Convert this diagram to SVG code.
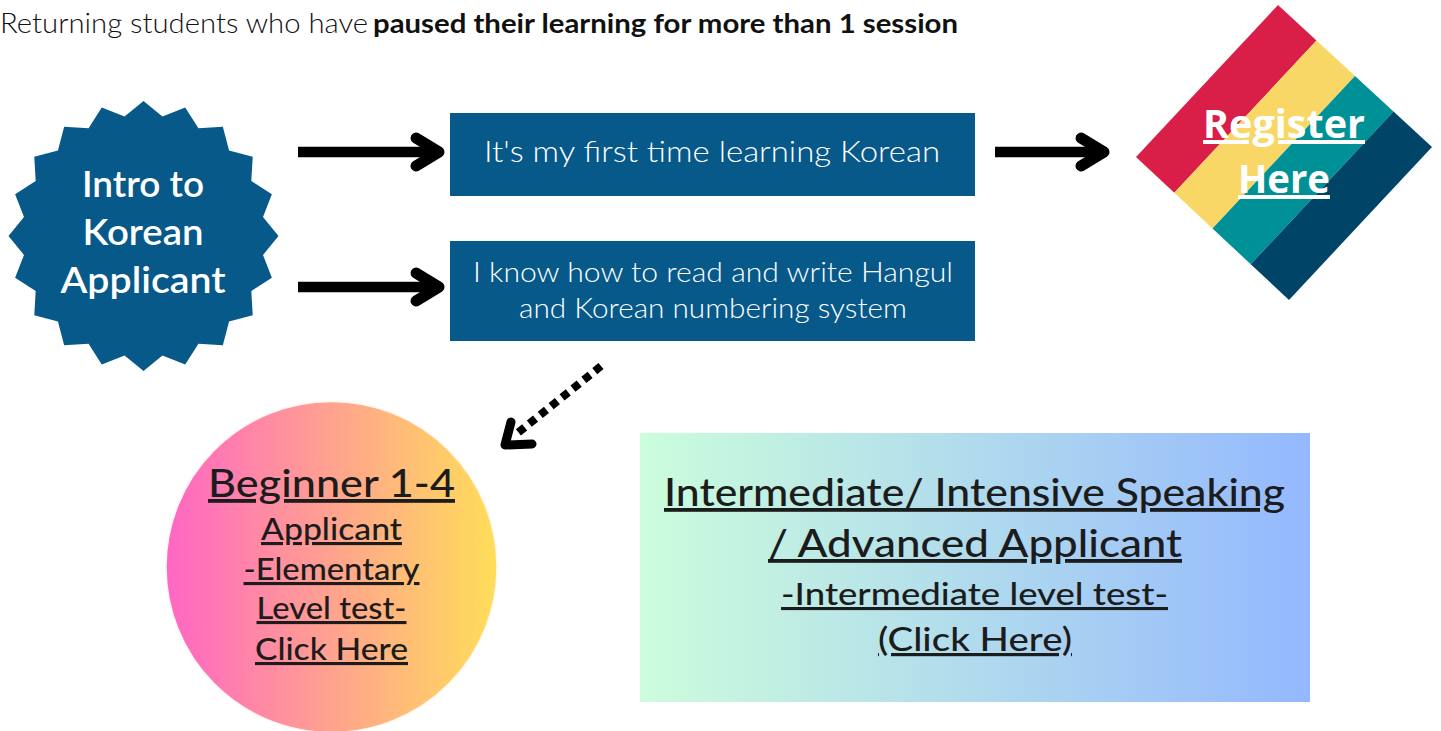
<svg xmlns="http://www.w3.org/2000/svg" width="1441" height="731" viewBox="0 0 1441 731">
  <defs>
    <linearGradient id="gradPink" x1="0" y1="0" x2="1" y2="0">
      <stop offset="0" stop-color="#FF66C4"/>
      <stop offset="1" stop-color="#FFDE59"/>
    </linearGradient>
    <linearGradient id="gradMint" x1="0" y1="0" x2="1" y2="0">
      <stop offset="0" stop-color="#CCFDDC"/>
      <stop offset="1" stop-color="#94B8FE"/>
    </linearGradient>
    <style>
      .blue { fill: #07598A; }
      .wtxt { fill: #FFFFFF; font-family: Lato, "Noto Sans", sans-serif; text-anchor: middle; }
      .dtxt { fill: #1C1C1C; font-family: Lato, "Noto Sans", sans-serif; text-anchor: middle; text-decoration: underline; font-weight: 500; }
      .head { fill: #111111; font-family: Lato, "Noto Sans", sans-serif; font-size: 27px; }
      .arrow { fill: none; stroke: #000000; stroke-width: 10.5; }
      .head-chev { fill: none; stroke: #000000; stroke-width: 11; stroke-linecap: round; stroke-linejoin: round; }
      .reg { fill: #FFFFFF; font-family: "Open Sans", "Liberation Sans", sans-serif; font-weight: bold; font-size: 40px; text-anchor: middle; text-decoration: underline; }
    </style>
  </defs>

  <rect x="0" y="0" width="1441" height="731" fill="#FFFFFF"/>

  <g id="heading">
    <text class="head" x="0" y="33" font-weight="300" textLength="368" lengthAdjust="spacingAndGlyphs">Returning students who have</text>
    <text class="head" x="373" y="33" font-weight="bold" textLength="585" lengthAdjust="spacingAndGlyphs">paused their learning for more than 1 session</text>
  </g>

  <g id="intro-badge">
    <polygon class="blue" points="143.5,101 162.43,116.49 185.22,107.61 198.43,128.19 222.85,126.78 229.06,150.44 252.72,156.65 251.31,181.07 271.89,194.28 263.01,217.07 278.5,236 263.01,254.93 271.89,277.72 251.31,290.93 252.72,315.35 229.06,321.56 222.85,345.22 198.43,343.81 185.22,364.39 162.43,355.51 143.5,371 124.57,355.51 101.78,364.39 88.57,343.81 64.15,345.22 57.94,321.56 34.28,315.35 35.69,290.93 15.11,277.72 23.99,254.93 8.5,236 23.99,217.07 15.11,194.28 35.69,181.07 34.28,156.65 57.94,150.44 64.15,126.78 88.57,128.19 101.78,107.61 124.57,116.49"/>
    <text class="wtxt" font-size="37" font-weight="600" x="143" y="197" textLength="122" lengthAdjust="spacingAndGlyphs">Intro to</text>
    <text class="wtxt" font-size="37" font-weight="600" x="143" y="245" textLength="121" lengthAdjust="spacingAndGlyphs">Korean</text>
    <text class="wtxt" font-size="37" font-weight="600" x="143" y="293" textLength="165" lengthAdjust="spacingAndGlyphs">Applicant</text>
  </g>

  <g id="first-time-box">
    <rect class="blue" x="450" y="113" width="525" height="83"/>
    <text class="wtxt" font-size="30" font-weight="300" x="712" y="162" textLength="456" lengthAdjust="spacingAndGlyphs">It's my first time learning Korean</text>
  </g>

  <g id="hangul-box">
    <rect class="blue" x="450" y="241" width="525" height="100"/>
    <text class="wtxt" font-size="28" font-weight="300" x="713" y="282" textLength="480" lengthAdjust="spacingAndGlyphs">I know how to read and write Hangul</text>
    <text class="wtxt" font-size="28" font-weight="300" x="713" y="318" textLength="388" lengthAdjust="spacingAndGlyphs">and Korean numbering system</text>
  </g>

  <g id="register-diamond">
    <polygon fill="#D91F48" points="1136,157 1278,5 1316.5,40.5 1174.25,192.75"/>
    <polygon fill="#F9D766" points="1174.25,192.75 1316.5,40.5 1355,76 1212.5,228.5"/>
    <polygon fill="#009196" points="1212.5,228.5 1355,76 1393.5,111.5 1250.75,264.25"/>
    <polygon fill="#004468" points="1250.75,264.25 1393.5,111.5 1432,147 1289,300"/>
    <text class="reg" x="1284" y="138" textLength="162" lengthAdjust="spacingAndGlyphs">Register</text>
    <text class="reg" x="1284" y="193" textLength="92" lengthAdjust="spacingAndGlyphs">Here</text>
  </g>

  <g id="beginner-circle">
    <circle cx="331.5" cy="567" r="165.5" fill="url(#gradPink)" stroke="#FFF6EE" stroke-width="1.5"/>
    <text class="dtxt" font-size="38" x="331.5" y="497" textLength="247" lengthAdjust="spacingAndGlyphs">Beginner 1-4</text>
    <text class="dtxt" font-size="31" x="331.5" y="540" textLength="141" lengthAdjust="spacingAndGlyphs">Applicant</text>
    <text class="dtxt" font-size="31" x="331.5" y="580" textLength="176" lengthAdjust="spacingAndGlyphs">-Elementary</text>
    <text class="dtxt" font-size="31" x="331.5" y="619" textLength="150" lengthAdjust="spacingAndGlyphs">Level test-</text>
    <text class="dtxt" font-size="31" x="331.5" y="660" textLength="153" lengthAdjust="spacingAndGlyphs">Click Here</text>
  </g>

  <g id="intermediate-box">
    <rect x="640" y="433" width="670" height="269" fill="url(#gradMint)"/>
    <text class="dtxt" font-size="38" x="974.5" y="506" textLength="621" lengthAdjust="spacingAndGlyphs">Intermediate/ Intensive Speaking</text>
    <text class="dtxt" font-size="38" x="975" y="557" textLength="414" lengthAdjust="spacingAndGlyphs">/ Advanced Applicant</text>
    <text class="dtxt" font-size="31" x="974.5" y="605" textLength="387" lengthAdjust="spacingAndGlyphs">-Intermediate level test-</text>
    <text class="dtxt" font-size="32" x="975" y="651" textLength="194" lengthAdjust="spacingAndGlyphs">(Click Here)</text>
  </g>

  <g id="connectors">
    <path class="arrow" d="M298 152 H436"/>
    <path class="head-chev" d="M416 138 L439 152 L416 166"/>
    <path class="arrow" d="M298 287 H436"/>
    <path class="head-chev" d="M416 273 L439 287 L416 301"/>
    <path class="arrow" d="M995 152 H1102"/>
    <path class="head-chev" d="M1081 138 L1104 152 L1081 166"/>
    <path fill="none" stroke="#000000" stroke-width="8" stroke-dasharray="8 6" d="M601 366 L514 436"/>
    <path fill="none" stroke="#000000" stroke-width="9" stroke-linecap="round" stroke-linejoin="round" d="M511 422 L505 445 L532 444"/>
  </g>
</svg>
